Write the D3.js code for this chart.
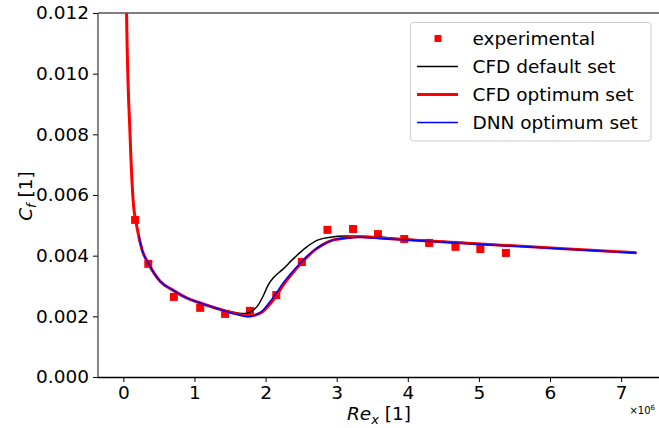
<!DOCTYPE html>
<html>
<head>
<meta charset="utf-8">
<script src="https://cdn.jsdelivr.net/npm/d3@7"></script>
<style>
  body { margin: 0; background: #fff; }
  svg { font-family: "DejaVu Sans", sans-serif; display: block; }
</style>
</head>
<body>
<div id="chart"></div>
<script>
// Re_x values in units of 1e6, Cf values
const expRe = [0.165, 0.35, 0.71, 1.08, 1.43, 1.78, 2.15, 2.51, 2.87, 3.23, 3.58, 3.95, 4.30, 4.67, 5.02, 5.38];
const expCf = [0.00518, 0.00373, 0.00264, 0.00228, 0.00208, 0.00218, 0.00270, 0.00379, 0.00485, 0.00488, 0.00471, 0.00455, 0.00442, 0.00429, 0.00422, 0.00409];

const cfdOptRe = [0.02, 0.045, 0.094, 0.137, 0.193, 0.263, 0.348, 0.516, 0.713, 0.896, 1.079, 1.248, 1.431, 1.60, 1.755, 1.853, 1.952, 2.05, 2.149, 2.247, 2.346, 2.515, 2.656, 2.797, 2.952, 3.12, 3.33, 3.61, 4.17, 4.97, 6.14, 7.215];
const cfdOptCf = [0.025, 0.0120, 0.00797, 0.00583, 0.00491, 0.00419, 0.00376, 0.00316, 0.00284, 0.00260, 0.00244, 0.00231, 0.00218, 0.00208, 0.00201, 0.00204, 0.00214, 0.00237, 0.00267, 0.00303, 0.00333, 0.00379, 0.00412, 0.00435, 0.00452, 0.00458, 0.00462, 0.00458, 0.00450, 0.00439, 0.00424, 0.00410];

const cfdDefRe = [0.02, 0.045, 0.094, 0.137, 0.193, 0.263, 0.348, 0.516, 0.713, 0.896, 1.079, 1.248, 1.431, 1.60, 1.713, 1.81, 1.895, 1.966, 2.036, 2.12, 2.233, 2.374, 2.557, 2.74, 2.91, 3.12, 3.47, 4.0, 4.97, 6.14, 7.215];
const cfdDefCf = [0.025, 0.0120, 0.00797, 0.00583, 0.00491, 0.00419, 0.00376, 0.00316, 0.00284, 0.00260, 0.00244, 0.00231, 0.00219, 0.00211, 0.00209, 0.00218, 0.00237, 0.00267, 0.00303, 0.00330, 0.00353, 0.00386, 0.00425, 0.00452, 0.00461, 0.00465, 0.00463, 0.00454, 0.00440, 0.00424, 0.00410];

const dnnRe = [0.22, 0.263, 0.348, 0.516, 0.713, 0.896, 1.079, 1.248, 1.431, 1.60, 1.74, 1.84, 1.94, 2.04, 2.14, 2.24, 2.34, 2.51, 2.656, 2.797, 2.952, 3.12, 3.33, 3.61, 4.17, 4.97, 6.14, 7.215];
const dnnCf = [0.00465, 0.00419, 0.00376, 0.00316, 0.00284, 0.00260, 0.00244, 0.00231, 0.00217, 0.00206, 0.00199, 0.00203, 0.00215, 0.00242, 0.00273, 0.00308, 0.00337, 0.00381, 0.00413, 0.00436, 0.00452, 0.00458, 0.00461, 0.00457, 0.00449, 0.00438, 0.00423, 0.00409];

const xTicks = [0, 1, 2, 3, 4, 5, 6, 7];
const yTicks = [0, 0.002, 0.004, 0.006, 0.008, 0.010, 0.012];
const legendLabels = ["experimental", "CFD default set", "CFD optimum set", "DNN optimum set"];

const width = 659, height = 428;
const margin = {top: 13, left: 98, bottom: 51, right: -3};

const svg = d3.select("#chart").append("svg")
  .attr("width", width)
  .attr("height", height);

const x = d3.scaleLinear().domain([-0.357, 7.575]).range([margin.left, width - margin.right]);
const y = d3.scaleLinear().domain([0, 0.012]).range([height - margin.bottom, margin.top]);

svg.append("clipPath").attr("id", "plot")
  .append("rect")
  .attr("x", margin.left).attr("y", margin.top)
  .attr("width", width - margin.right - margin.left)
  .attr("height", height - margin.bottom - margin.top);

const plot = svg.append("g").attr("clip-path", "url(#plot)");

function series(re, cf) { return re.map((r, i) => [r, cf[i]]); }
const line = d3.line().x(d => x(d[0])).y(d => y(d[1])).curve(d3.curveMonotoneX);

// experimental squares
plot.selectAll("rect.exp")
  .data(series(expRe, expCf))
  .enter().append("rect")
  .attr("class", "exp")
  .attr("x", d => x(d[0]) - 4)
  .attr("y", d => y(d[1]) - 4)
  .attr("width", 8).attr("height", 8)
  .attr("fill", "red");

plot.append("path").datum(series(cfdDefRe, cfdDefCf))
  .attr("d", line).attr("fill", "none").attr("stroke", "black").attr("stroke-width", 1.5);
plot.append("path").datum(series(cfdOptRe, cfdOptCf))
  .attr("d", line).attr("fill", "none").attr("stroke", "red").attr("stroke-width", 3);
plot.append("path").datum(series(dnnRe, dnnCf))
  .attr("d", line).attr("fill", "none").attr("stroke", "blue").attr("stroke-width", 1.5);

// axes
const xAxis = d3.axisBottom(x).tickValues(xTicks).tickFormat(d3.format("d")).tickSize(5).tickPadding(4);
const yAxis = d3.axisLeft(y).tickValues(yTicks).tickFormat(d3.format(".3f")).tickSize(5).tickPadding(4);

const gx = svg.append("g").attr("transform", `translate(0,${height - margin.bottom})`).call(xAxis);
const gy = svg.append("g").attr("transform", `translate(${margin.left},0)`).call(yAxis);
[gx, gy].forEach(g => {
  g.select(".domain").remove();
  g.selectAll("text").attr("font-size", 18.5).attr("font-family", "DejaVu Sans").attr("fill", "black");
  g.selectAll("line").attr("stroke", "black").attr("stroke-width", 1);
});

// spines
svg.append("line").attr("x1", margin.left).attr("x2", width).attr("y1", margin.top).attr("y2", margin.top)
  .attr("stroke", "#555").attr("stroke-width", 1.3);
svg.append("line").attr("x1", margin.left).attr("x2", margin.left).attr("y1", margin.top).attr("y2", height - margin.bottom)
  .attr("stroke", "#444").attr("stroke-width", 1.3);
svg.append("line").attr("x1", margin.left).attr("x2", width).attr("y1", height - margin.bottom + 0.5).attr("y2", height - margin.bottom + 0.5)
  .attr("stroke", "black").attr("stroke-width", 1.3);

// axis labels
const xl = svg.append("text").attr("x", 379).attr("y", 420).attr("text-anchor", "middle").attr("font-size", 18.5);
xl.append("tspan").attr("font-style", "italic").text("Re");
xl.append("tspan").attr("font-style", "italic").attr("font-size", 13).attr("dy", 4).text("x");
xl.append("tspan").attr("dy", -4).text(" [1]");

const yl = svg.append("text").attr("transform", "translate(32,196) rotate(-90)").attr("text-anchor", "middle").attr("font-size", 18.5);
yl.append("tspan").attr("font-style", "italic").text("C");
yl.append("tspan").attr("font-style", "italic").attr("font-size", 13).attr("dy", 4).text("f");
yl.append("tspan").attr("dy", -4).text(" [1]");

// offset text
const off = svg.append("text").attr("x", 655).attr("y", 414).attr("text-anchor", "end").attr("font-size", 10);
off.append("tspan").text("×10");
off.append("tspan").attr("font-size", 7).attr("dy", -4).text("6");

// legend
const lg = svg.append("g").attr("transform", "translate(410.5,22.5)");
lg.append("rect").attr("width", 240.5).attr("height", 118.5).attr("rx", 3)
  .attr("fill", "white").attr("fill-opacity", 0.8).attr("stroke", "#ccc");
const rowY = d3.scalePoint().domain(legendLabels).range([16, 100]);
lg.append("rect").attr("x", 24).attr("y", rowY(legendLabels[0]) - 3.5).attr("width", 7).attr("height", 7).attr("fill", "red");
const handles = [["black", 1.5], ["red", 3], ["blue", 1.5]];
legendLabels.slice(1).forEach((l, i) => {
  lg.append("line").attr("x1", 6.5).attr("x2", 47.5).attr("y1", rowY(l)).attr("y2", rowY(l))
    .attr("stroke", handles[i][0]).attr("stroke-width", handles[i][1]);
});
lg.selectAll("text.lab").data(legendLabels).enter().append("text")
  .attr("class", "lab")
  .attr("x", 62).attr("y", d => rowY(d) + 6.5)
  .attr("font-size", 18.5)
  .text(d => d);
</script>
</body>
</html>
